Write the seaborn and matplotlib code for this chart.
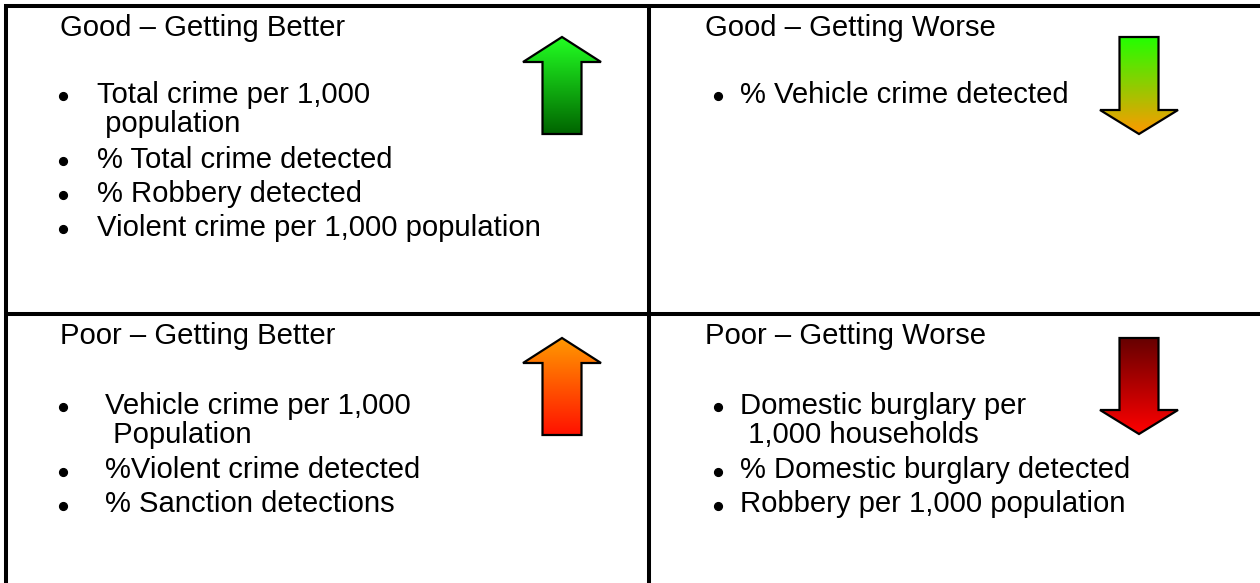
import numpy as np
import matplotlib
matplotlib.use("Agg")
import matplotlib.pyplot as plt
from matplotlib.patches import Polygon
from matplotlib.colors import to_rgb
import seaborn as sns

# quadrant contents
titles = ["Good \u2013 Getting Better", "Good \u2013 Getting Worse",
          "Poor \u2013 Getting Better", "Poor \u2013 Getting Worse"]
items_good_better = [["Total crime per 1,000", " population"],
                     ["% Total crime detected"],
                     ["% Robbery detected"],
                     ["Violent crime per 1,000 population"]]
items_good_worse = [["% Vehicle crime detected"]]
items_poor_better = [["Vehicle crime per 1,000", " Population"],
                     ["%Violent crime detected"],
                     ["% Sanction detections"]]
items_poor_worse = [["Domestic burglary per", " 1,000 households"],
                    ["% Domestic burglary detected"],
                    ["Robbery per 1,000 population"]]
all_items = [items_good_better, items_good_worse, items_poor_better, items_poor_worse]

# arrow direction and gradient (top colour, bottom colour)
arrow_dirs = ["up", "down", "up", "down"]
arrow_cols = [("#22ff22", "#006400"), ("#22ff00", "#ff9900"),
              ("#ff9900", "#ff1100"), ("#660000", "#ff0000")]

sns.set_theme(style="white")
plt.rcParams['font.family'] = ['Liberation Sans', 'DejaVu Sans']

W, H = 1260, 583
fig = plt.figure(figsize=(12.6, 5.83), dpi=100)
ax = fig.add_axes([0, 0, 1, 1])
ax.set_xlim(0, W)
ax.set_ylim(H, 0)
ax.axis("off")

fs = 21.1
lw = 2.9
# grid lines
ax.plot([4, W], [6, 6], color="black", lw=lw, solid_capstyle="butt")
ax.plot([6, 6], [4, H], color="black", lw=lw, solid_capstyle="butt")
ax.plot([649, 649], [4, H], color="black", lw=lw, solid_capstyle="butt")
ax.plot([4, W], [313.7, 313.7], color="black", lw=lw, solid_capstyle="butt")

# per quadrant layout: title x, title baseline, bullet x, text x, wrapped x, first baseline
layout = [(60, 35.5, 63, 97, 97, 103),
          (705, 35.5, 718, 740, 740, 103),
          (60, 344.5, 63, 105, 105, 413.5),
          (705, 344.5, 718, 740, 740, 413.5)]
wrap_step = 29.5
item_step = 34
wrap_gap = 1.5

for q in range(4):
    tx, ty, bx, x0, xw, yb = layout[q]
    ax.text(tx, ty, titles[q], fontsize=fs, va="baseline", ha="left", color="black")
    y = yb
    for lines in all_items[q]:
        ax.plot([bx], [y - 7], marker="o", ms=5.6, color="black", mec="black", ls="none")
        ax.text(x0, y, lines[0], fontsize=fs, va="baseline", ha="left", color="black")
        for extra in lines[1:]:
            y += wrap_step
            ax.text(xw, y, extra, fontsize=fs, va="baseline", ha="left", color="black")
        if len(lines) > 1:
            y += wrap_gap
        y += item_step


def arrow_poly(cx, top, bottom, direction):
    hw, sw = 39, 19.5
    if direction == "up":
        hb = top + 25
        return [(cx, top), (cx + hw, hb), (cx + sw, hb), (cx + sw, bottom),
                (cx - sw, bottom), (cx - sw, hb), (cx - hw, hb)]
    hb = bottom - 24
    return [(cx - sw, top), (cx + sw, top), (cx + sw, hb), (cx + hw, hb),
            (cx, bottom), (cx - hw, hb), (cx - sw, hb)]


arrow_pos = [(562, 37, 134), (1139, 37, 134), (562, 338, 435), (1139, 338, 434)]
for (cx, top, bottom), d, (c1, c2) in zip(arrow_pos, arrow_dirs, arrow_cols):
    pts = arrow_poly(cx, top, bottom, d)
    t = np.linspace(0, 1, 256)[:, None, None]
    grad = (1 - t) * np.array(to_rgb(c1)) + t * np.array(to_rgb(c2))
    grad = np.repeat(grad, 2, axis=1)
    poly = Polygon(pts, closed=True, facecolor="none", edgecolor="black", lw=1.6, zorder=3)
    ax.add_patch(poly)
    im = ax.imshow(grad, extent=(cx - 40, cx + 40, bottom, top), origin="upper",
                   aspect="auto", zorder=2, interpolation="bilinear")
    im.set_clip_path(poly)

ax.set_xlim(0, W)
ax.set_ylim(H, 0)
fig.savefig("out.png", dpi=100, facecolor="white")
